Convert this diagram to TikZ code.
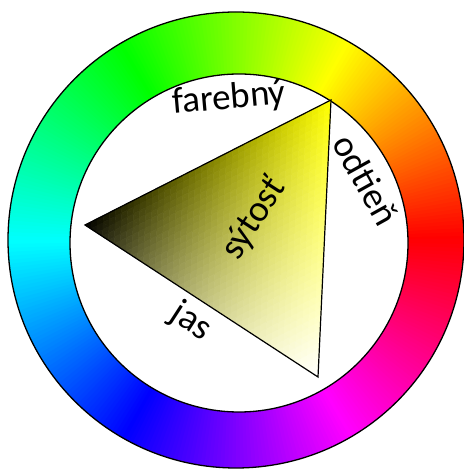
\documentclass[tikz,border=0pt]{standalone}
\usepackage{fontspec}
\setmainfont{Carlito}
\tikzset{
  ringline/.style={draw=black, line width=1.3pt},
  triline/.style={draw=black, line width=1.2pt, line join=miter},
  lab/.style={font=\fontsize{37}{40}\selectfont, inner sep=0pt, text=black}
}
\newcommand{\tpt}[2]{({85+(#1)*246/40+(#2)*233/40},{245+(#1)*125/40-(#2)*152/40})}
\begin{document}
\begin{tikzpicture}[x=1pt,y=1pt]
\useasboundingbox (0,0) rectangle (463,470);
\coordinate (O1) at (236,230);
\coordinate (O2) at (239,227);
\coordinate (T) at (331,370);
\coordinate (L) at (85,245);
\coordinate (B) at (318,93);
% hue ring
\foreach \a in {0,...,359} {
  \definecolor{hc}{Hsb}{\a,1,1}
  \fill[hc] (O1) -- ++(\a:228) arc[start angle=\a, end angle=\a+1.4, radius=228] -- cycle;
}
\fill[white] (O2) circle[radius=169];
\draw[ringline] (O1) circle[radius=228];
\draw[ringline] (O2) circle[radius=169];
% triangle gradient
\foreach \i in {0,...,39} {
  \pgfmathtruncatemacro\jmax{39-\i}
  \foreach \j in {0,...,\jmax} {
    \pgfmathsetmacro\wt{(\i+1/3)/40}
    \pgfmathsetmacro\wb{(\j+1/3)/40}
    \pgfmathsetmacro\rr{min(1,(1-\wb)*(\wt+\wb)+\wb)}
    \pgfmathsetmacro\bb{min(1,\wb)}
    \definecolor{tc}{rgb}{\rr,\rr,\bb}
    \filldraw[fill=tc, draw=tc, line width=0.5pt, line join=round] \tpt{\i}{\j} -- \tpt{\i+1}{\j} -- \tpt{\i}{\j+1} -- cycle;
    \ifnum\j<\jmax
      \pgfmathsetmacro\wt{(\i+2/3)/40}
      \pgfmathsetmacro\wb{(\j+2/3)/40}
      \pgfmathsetmacro\rr{min(1,(1-\wb)*(\wt+\wb)+\wb)}
      \pgfmathsetmacro\bb{min(1,\wb)}
      \definecolor{tc}{rgb}{\rr,\rr,\bb}
      \filldraw[fill=tc, draw=tc, line width=0.5pt, line join=round] \tpt{\i+1}{\j} -- \tpt{\i+1}{\j+1} -- \tpt{\i}{\j+1} -- cycle;
    \fi
  }
}
\draw[triline] (L) -- (T) -- (B) -- cycle;
% labels
\node[lab, rotate=5] (farebny) at (229,371) {farebný};
\node[lab, rotate=-61] (odtien) at (366,290) {odtieň};
\node[lab, rotate=57] (sytost) at (254,251) {sýtosť};
\node[lab, rotate=-33] (jas) at (191,148) {jas};
\end{tikzpicture}
\end{document}
